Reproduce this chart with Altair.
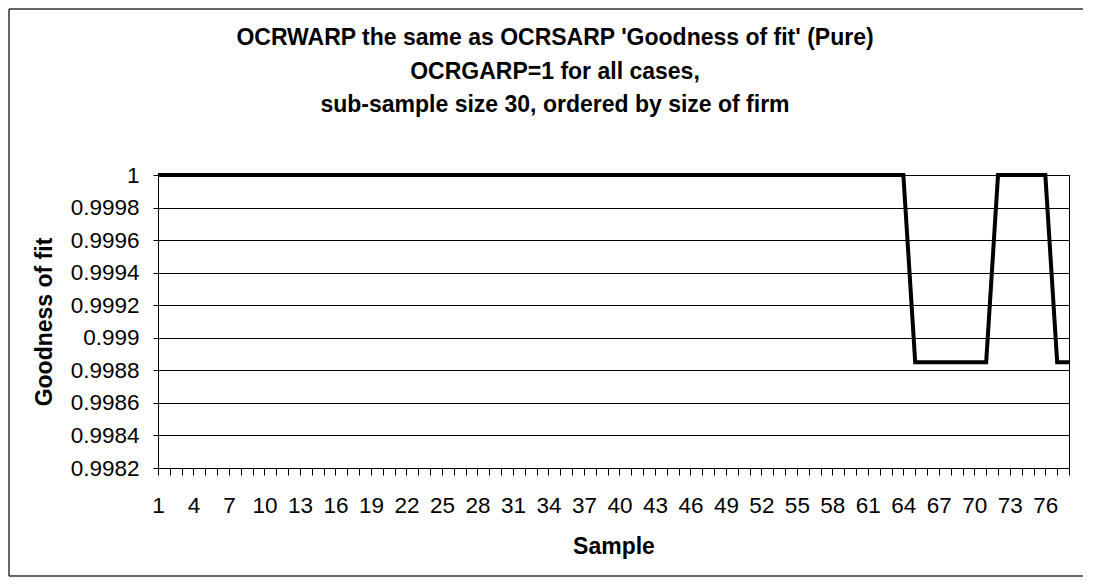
import altair as alt
import pandas as pd

# ---- data ----
samples = list(range(1, 79))
fit = [
    1, 1, 1, 1, 1, 1, 1, 1, 1, 1,
    1, 1, 1, 1, 1, 1, 1, 1, 1, 1,
    1, 1, 1, 1, 1, 1, 1, 1, 1, 1,
    1, 1, 1, 1, 1, 1, 1, 1, 1, 1,
    1, 1, 1, 1, 1, 1, 1, 1, 1, 1,
    1, 1, 1, 1, 1, 1, 1, 1, 1, 1,
    1, 1, 1, 1,
    0.99885, 0.99885, 0.99885, 0.99885, 0.99885, 0.99885, 0.99885,
    1, 1, 1, 1, 1,
    0.99885, 0.99885,
]
y_ticks = [0.9982, 0.9984, 0.9986, 0.9988, 0.999, 0.9992, 0.9994, 0.9996, 0.9998, 1.0]
x_labelled = [1, 4, 7, 10, 13, 16, 19, 22, 25, 28, 31, 34, 37, 40, 43, 46, 49, 52,
              55, 58, 61, 64, 67, 70, 73, 76]
title_lines = [
    "OCRWARP the same as OCRSARP 'Goodness of fit' (Pure)",
    "OCRGARP=1 for all cases,",
    "sub-sample size 30, ordered by size of firm",
]

df = pd.DataFrame({"Sample": samples, "Goodness of fit": fit})

FONT = "Liberation Sans"
W, H = 911, 293

label_expr = "indexof([" + ",".join(str(v) for v in x_labelled) + "], datum.value) >= 0 ? datum.label : ''"

line = alt.Chart(df).mark_line(color="black", strokeWidth=4).encode(
    x=alt.X(
        "Sample:Q",
        scale=alt.Scale(domain=[1, 78], nice=False, zero=False),
        axis=alt.Axis(
            values=samples,
            labelExpr=label_expr,
            title="Sample",
            grid=False,
            tickSize=7,
            labelPadding=19,
            titlePadding=19,
            labelOverlap=False,
            labelFlush=False,
        ),
    ),
    y=alt.Y(
        "Goodness of fit:Q",
        scale=alt.Scale(domain=[0.9982, 1.0], nice=False, zero=False),
        axis=alt.Axis(
            values=y_ticks,
            format=".4~f",
            title="Goodness of fit",
            grid=True,
            gridColor="#000",
            gridWidth=1,
            tickSize=5,
            labelPadding=14,
            titlePadding=14,
            labelOverlap=False,
        ),
    ),
)

one = pd.DataFrame({"k": [0]})
border_left = alt.Chart(one).mark_rule(color="#333", strokeWidth=1.5).encode(
    x=alt.value(-149), y=alt.value(-166), y2=alt.value(401)
)
border_top = alt.Chart(one).mark_rule(color="#333", strokeWidth=1.5).encode(
    x=alt.value(-149), x2=alt.value(925), y=alt.value(-166)
)
border_bottom = alt.Chart(one).mark_rule(color="#333", strokeWidth=1.5).encode(
    x=alt.value(-149), x2=alt.value(925), y=alt.value(401)
)

chart = (
    alt.layer(line, border_left, border_top, border_bottom)
    .properties(
        width=W,
        height=H,
        padding=0,
        background="white",
        title=alt.TitleParams(
            text=title_lines,
            font=FONT,
            fontSize=23,
            fontWeight="bold",
            color="black",
            lineHeight=33.5,
            anchor="middle",
            dx=-58.5,
            offset=-109,
        ),
    )
    .configure(font=FONT)
    .configure_view(stroke="black", strokeWidth=1)
    .configure_axis(
        labelFont=FONT,
        titleFont=FONT,
        labelFontSize=22.5,
        titleFontSize=23,
        titleFontWeight="bold",
        labelColor="black",
        titleColor="black",
        domainColor="black",
        tickColor="black",
        domainWidth=1,
        tickWidth=1,
    )
)

chart.save("out.html", embed_options={"renderer": "svg", "actions": False})
